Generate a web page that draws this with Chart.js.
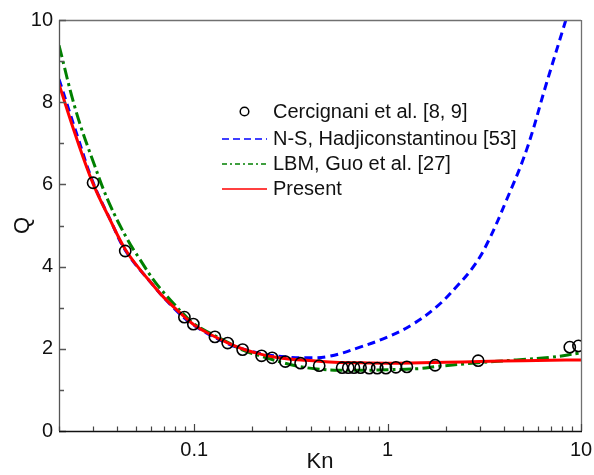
<!DOCTYPE html>
<html>
<head>
<meta charset="utf-8">
<title>Q versus Kn</title>
<script src="https://cdn.jsdelivr.net/npm/chart.js@4.4.1/dist/chart.umd.min.js"></script>
<style>
  html, body { margin: 0; padding: 0; background: #ffffff; }
  #wrap { width: 594px; height: 475px; }
</style>
</head>
<body>
<div id="wrap"><canvas id="chart" width="594" height="475"></canvas></div>
<script>
// ---- data ----
const seriesLabels = [
  'Cercignani et al. [8, 9]',
  'N-S, Hadjiconstantinou [53]',
  'LBM, Guo et al. [27]',
  'Present'
];

// Cercignani et al. reference values
const cercKn = [0.03, 0.044, 0.089, 0.099, 0.128, 0.149, 0.178, 0.223, 0.253, 0.296,
                0.355, 0.443, 0.582, 0.626, 0.67, 0.725, 0.803, 0.884, 0.98, 1.104,
                1.258, 1.76, 2.94, 8.75, 9.7];
const cercQ  = [6.04, 4.38, 2.77, 2.60, 2.29, 2.14, 1.98, 1.83, 1.78, 1.69,
                1.65, 1.59, 1.54, 1.54, 1.54, 1.54, 1.53, 1.53, 1.53, 1.55,
                1.56, 1.60, 1.71, 2.04, 2.07];

// Navier-Stokes with slip (Hadjiconstantinou)
const nsKn = [0.02, 0.025, 0.03, 0.037, 0.044, 0.06, 0.08, 0.1, 0.15, 0.2, 0.25, 0.3,
              0.38, 0.5, 0.72, 0.99, 1.33, 1.79, 2.27, 2.82, 3.31, 4.12, 5.23, 6.63, 8.35];
const nsQ  = [8.56, 7.15, 6.05, 5.12, 4.40, 3.60, 2.95, 2.57, 2.12, 1.93, 1.84, 1.80,
              1.78, 1.82, 2.04, 2.28, 2.58, 3.02, 3.51, 4.04, 4.61, 5.62, 6.84, 8.46, 10.0];

// LBM, Guo et al.
const lbmKn = [0.02, 0.0245, 0.0305, 0.0364, 0.0453, 0.052, 0.0627, 0.078, 0.09, 0.1,
               0.15, 0.18, 0.219, 0.289, 0.35, 0.43, 0.567, 0.8, 1.0, 1.47, 1.8,
               2.94, 4.64, 6.88, 9.67, 10];
const lbmQ  = [9.38, 7.78, 6.47, 5.54, 4.65, 4.20, 3.63, 3.11, 2.80, 2.60,
               2.15, 1.96, 1.83, 1.66, 1.57, 1.51, 1.48, 1.48, 1.49, 1.52, 1.57,
               1.66, 1.73, 1.79, 1.89, 1.90];

// Present model
const presentKn = [0.02, 0.0245, 0.03, 0.0364, 0.044, 0.052, 0.06, 0.07, 0.09, 0.1,
                   0.12, 0.15, 0.18, 0.22, 0.26, 0.3, 0.38, 0.5, 0.7, 1.0, 1.5, 2,
                   3, 5, 7, 10];
const presentQ  = [8.44, 7.16, 6.02, 5.18, 4.42, 3.95, 3.60, 3.24, 2.76, 2.58,
                   2.36, 2.14, 1.99, 1.87, 1.80, 1.76, 1.72, 1.68, 1.66, 1.65, 1.66, 1.67,
                   1.69, 1.71, 1.72, 1.73];

// axis ticks
const xTickValues  = [0.1, 1, 10];
const xMinorTicks  = [0.02, 0.03, 0.04, 0.05, 0.06, 0.07, 0.08, 0.09,
                      0.2, 0.3, 0.4, 0.5, 0.6, 0.7, 0.8, 0.9,
                      2, 3, 4, 5, 6, 7, 8, 9];
const yTickValues  = [0, 2, 4, 6, 8, 10];
const yMinorTicks  = [1, 3, 5, 7, 9];

const FONT = "Arial, 'Liberation Sans', sans-serif";

function toPoints(xs, ys) {
  return xs.map((x, i) => ({ x: x, y: ys[i] }));
}

// Frame with inward-pointing tick marks
const framePlugin = {
  id: 'frame',
  afterDatasetsDraw(chart) {
    const { ctx, chartArea: a, scales } = chart;
    const xs = scales.x, ys = scales.y;
    ctx.save();
    ctx.lineCap = 'butt';
    ctx.lineWidth = 1.3;

    // top and right edges
    ctx.strokeStyle = '#707070';
    ctx.beginPath();
    ctx.moveTo(a.left, a.top + 0.5);
    ctx.lineTo(a.right, a.top + 0.5);
    ctx.moveTo(a.right + 0.5, a.top);
    ctx.lineTo(a.right + 0.5, a.bottom);
    ctx.stroke();

    // left axis
    ctx.strokeStyle = '#555555';
    ctx.beginPath();
    ctx.moveTo(a.left + 0.5, a.top);
    ctx.lineTo(a.left + 0.5, a.bottom);
    ctx.stroke();

    // y ticks
    ctx.beginPath();
    yTickValues.forEach(v => {
      const p = Math.round(ys.getPixelForValue(v)) + 0.5;
      ctx.moveTo(a.left, p); ctx.lineTo(a.left + 7, p);
    });
    yMinorTicks.forEach(v => {
      const p = Math.round(ys.getPixelForValue(v)) + 0.5;
      ctx.moveTo(a.left, p); ctx.lineTo(a.left + 5, p);
    });
    ctx.stroke();

    // bottom axis
    ctx.strokeStyle = '#111111';
    ctx.lineWidth = 1.5;
    ctx.beginPath();
    ctx.moveTo(a.left, a.bottom + 0.5);
    ctx.lineTo(a.right + 1, a.bottom + 0.5);
    ctx.stroke();

    ctx.lineWidth = 1.2;
    ctx.strokeStyle = '#444444';
    ctx.beginPath();
    xTickValues.forEach(v => {
      const p = Math.round(xs.getPixelForValue(v)) + 0.5;
      ctx.moveTo(p, a.bottom); ctx.lineTo(p, a.bottom - 7);
    });
    xMinorTicks.forEach(v => {
      const p = Math.round(xs.getPixelForValue(v)) + 0.5;
      ctx.moveTo(p, a.bottom); ctx.lineTo(p, a.bottom - 4.5);
    });
    ctx.stroke();
    ctx.restore();
  }
};

// In-plot legend built from the dataset list
const legendPlugin = {
  id: 'inlineLegend',
  afterDraw(chart) {
    const { ctx } = chart;
    const rows = [111.5, 139, 164, 189];
    const x0 = 222, x1 = 267, tx = 273;
    ctx.save();
    chart.data.datasets.forEach((ds, i) => {
      const y = rows[i];
      if (ds.showLine === false) {
        ctx.beginPath();
        ctx.lineWidth = 1.5;
        ctx.strokeStyle = ds.borderColor;
        ctx.arc((x0 + x1) / 2, y, 4.3, 0, Math.PI * 2);
        ctx.stroke();
      } else {
        ctx.beginPath();
        ctx.lineWidth = 1.6;
        ctx.strokeStyle = ds.borderColor;
        ctx.setLineDash(ds.legendDash || []);
        ctx.moveTo(x0, y);
        ctx.lineTo(x1, y);
        ctx.stroke();
        ctx.setLineDash([]);
      }
      ctx.fillStyle = '#111111';
      ctx.font = '20px ' + FONT;
      ctx.textAlign = 'left';
      ctx.textBaseline = 'middle';
      ctx.fillText(ds.label, tx, y + 0.5);
    });
    ctx.restore();
  }
};

const lineCommon = {
  showLine: true,
  pointRadius: 0,
  pointHoverRadius: 0,
  fill: false,
  borderWidth: 3,
  tension: 0.4,
  cubicInterpolationMode: 'default',
  clip: 0
};

new Chart(document.getElementById('chart'), {
  type: 'scatter',
  data: {
    datasets: [
      {
        label: seriesLabels[0],
        data: toPoints(cercKn, cercQ),
        showLine: false,
        pointStyle: 'circle',
        pointRadius: 5.6,
        pointBorderWidth: 1.6,
        borderColor: '#000000',
        backgroundColor: 'rgba(0,0,0,0)',
        pointBackgroundColor: 'rgba(0,0,0,0)',
        clip: 0,
        order: 0
      },
      Object.assign({}, lineCommon, {
        label: seriesLabels[1],
        data: toPoints(nsKn, nsQ),
        borderColor: '#0000ff',
        borderDash: [8, 5],
        legendDash: [7, 4],
        order: 3
      }),
      Object.assign({}, lineCommon, {
        label: seriesLabels[2],
        data: toPoints(lbmKn, lbmQ),
        borderColor: '#008000',
        borderDash: [12, 4, 3, 4],
        legendDash: [5, 3, 2, 3],
        order: 2
      }),
      Object.assign({}, lineCommon, {
        label: seriesLabels[3],
        data: toPoints(presentKn, presentQ),
        borderColor: '#ff0000',
        order: 1
      })
    ]
  },
  options: {
    responsive: false,
    animation: false,
    devicePixelRatio: 1,
    layout: { padding: { top: 20, right: 13, left: 0, bottom: 0 } },
    plugins: {
      legend: { display: false },
      tooltip: { enabled: false }
    },
    scales: {
      x: {
        type: 'logarithmic',
        position: 'bottom',
        min: 0.02,
        max: 10,
        grid: { display: false, drawTicks: false },
        border: { display: false },
        afterBuildTicks(scale) {
          scale.ticks = xTickValues.map(v => ({ value: v }));
        },
        afterFit(scale) {
          scale.height = 44;
          scale.paddingLeft = 0;
          scale.paddingRight = 0;
        },
        ticks: {
          autoSkip: false,
          maxRotation: 0,
          padding: 7,
          color: '#111111',
          font: { family: FONT, size: 20 },
          callback: v => String(v)
        },
        title: {
          display: true,
          text: 'Kn',
          color: '#111111',
          font: { family: FONT, size: 22 },
          padding: { top: 0, bottom: 0 }
        }
      },
      y: {
        type: 'linear',
        position: 'left',
        min: 0,
        max: 10,
        grid: { display: false, drawTicks: false },
        border: { display: false },
        afterBuildTicks(scale) {
          scale.ticks = yTickValues.map(v => ({ value: v }));
        },
        afterFit(scale) {
          scale.width = 59;
          scale.paddingTop = 0;
          scale.paddingBottom = 0;
        },
        ticks: {
          padding: 6,
          color: '#111111',
          font: { family: FONT, size: 20 },
          callback: v => String(v)
        },
        title: {
          display: true,
          text: 'Q',
          color: '#111111',
          font: { family: FONT, size: 22 },
          padding: { top: 10, bottom: 0 }
        }
      }
    }
  },
  plugins: [framePlugin, legendPlugin]
});
</script>
</body>
</html>
